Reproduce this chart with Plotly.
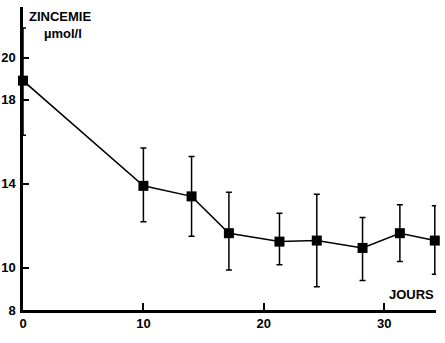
import plotly.graph_objects as go

days = [0, 10, 14, 17.1, 21.3, 24.4, 28.2, 31.3, 34.2]
zinc = [18.9, 13.9, 13.4, 11.65, 11.25, 11.3, 10.95, 11.65, 11.3]
err_top = [21.4, 15.7, 15.3, 13.6, 12.6, 13.5, 12.4, 13.0, 12.95]
err_bot = [16.3, 12.2, 11.5, 9.9, 10.15, 9.1, 9.4, 10.3, 9.7]

x_ticks = [0, 10, 20, 30, 34.3]
x_ticktext = ["0", "10", "20", "30", ""]
y_ticks = [8, 10, 14, 18, 20]
y_ticktext = ["8", "10", "14", "18", "20"]

plus = [t - v for t, v in zip(err_top, zinc)]
minus = [v - b for v, b in zip(zinc, err_bot)]

FONT = "Liberation Sans, Arial, sans-serif"

fig = go.Figure()
fig.add_trace(go.Scatter(
    x=days, y=zinc, mode="lines+markers",
    line=dict(color="black", width=1.5),
    marker=dict(symbol="square", size=10, color="black"),
    error_y=dict(type="data", symmetric=False, array=plus, arrayminus=minus,
                 color="black", thickness=1.5, width=3),
    cliponaxis=False, showlegend=False,
))

fig.update_layout(
    width=445, height=343,
    margin=dict(l=23, r=9, t=7, b=33),
    paper_bgcolor="white", plot_bgcolor="white",
    font=dict(family=FONT, color="black", size=13),
    xaxis=dict(range=[0, 34.3], tickvals=x_ticks, ticktext=x_ticktext,
               ticks="inside", ticklen=7, tickwidth=1.5, tickcolor="black",
               showline=True, linecolor="black", linewidth=2.5,
               showgrid=False, zeroline=False, automargin=False,
               tickfont=dict(family=FONT, size=13, weight="bold")),
    yaxis=dict(range=[8, 22.4], tickvals=y_ticks, ticktext=y_ticktext,
               ticks="inside", ticklen=6, tickwidth=1.5, tickcolor="black",
               showline=True, linecolor="black", linewidth=2.5,
               showgrid=False, zeroline=False, automargin=False,
               ticklabelstandoff=2,
               tickfont=dict(family=FONT, size=13, weight="bold")),
    annotations=[
        dict(text="ZINCEMIE", xref="paper", yref="paper", x=0.01, y=1.0,
             xanchor="left", yanchor="top", showarrow=False,
             font=dict(family=FONT, size=13, weight="bold")),
        dict(text="µmol/l", xref="paper", yref="paper", x=0.045, y=0.945,
             xanchor="left", yanchor="top", showarrow=False,
             font=dict(family=FONT, size=13, weight="bold")),
        dict(text="JOURS", xref="paper", yref="paper", x=1.0, y=0.02,
             xanchor="right", yanchor="bottom", showarrow=False,
             font=dict(family=FONT, size=13, weight="bold")),
    ],
)

fig.write_html("out.html", config={"displayModeBar": False},
               post_script="document.body.style.margin='0';document.body.style.overflow='hidden';")
